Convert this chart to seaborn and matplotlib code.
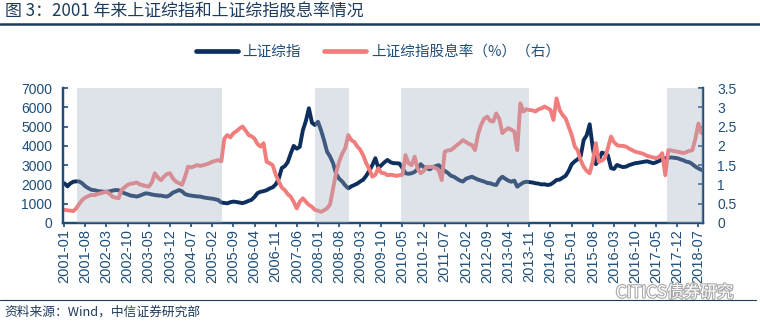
import numpy as np
import pandas as pd
import matplotlib
matplotlib.use("Agg")
import matplotlib.pyplot as plt
import matplotlib.dates as mdates
from matplotlib.lines import Line2D
import matplotlib.patheffects as pe
import seaborn as sns

# 上证综指（月度，2001-01 起）
sh_index = [
    2060, 1900, 2050, 2140, 2160, 2150, 2050, 1900, 1800, 1720, 1700, 1660,
    1640, 1620, 1620, 1640, 1680, 1710, 1700, 1600, 1540, 1480, 1420, 1400,
    1370, 1420, 1480, 1540, 1520, 1480, 1450, 1430, 1420, 1390, 1370, 1450,
    1580, 1640, 1710, 1640, 1500, 1450, 1420, 1400, 1380, 1370, 1330, 1300,
    1280, 1260, 1230, 1190, 1060, 1040, 1020, 1080, 1110, 1090, 1060, 1030,
    1080, 1150, 1200, 1350, 1550, 1620, 1650, 1700, 1790, 1850, 2000, 2300,
    2850, 2950, 3150, 3600, 4000, 3850, 3950, 4800, 5300, 5950, 5200, 5080,
    5250, 4800, 4300, 3700, 3450, 3100, 2550, 2300, 2150, 1950, 1800, 1900,
    1970, 2050, 2150, 2250, 2450, 2700, 3000, 3360, 2850, 3000, 3150, 3270,
    3150, 3100, 3100, 3080, 2850, 2580, 2550, 2580, 2650, 2800, 3050, 2900,
    2840, 2780, 2900, 2950, 3000, 2850, 2700, 2600, 2450, 2400, 2300, 2200,
    2150, 2300, 2350, 2400, 2320, 2250, 2200, 2150, 2080, 2060, 2000, 1970,
    2250, 2400, 2300, 2200, 2140, 2200, 1880, 2000, 2100, 2140, 2120, 2100,
    2060, 2040, 2000, 2010, 1970, 2000, 2100, 2230, 2250, 2350, 2450, 2700,
    3050, 3200, 3300, 3450, 4300, 4550, 5120, 3900, 3050, 3270, 3650, 3600,
    3500, 2850, 2800, 3010, 2950, 2900, 2920, 3000, 3050, 3100, 3120, 3150,
    3180, 3200, 3150, 3100, 3150, 3220, 3300, 3360, 3380, 3400, 3380, 3360,
    3300, 3250, 3180, 3150, 3050, 2920, 2830, 2750,
]

# 上证综指股息率（%）
div_yield = [
    0.34, 0.33, 0.32, 0.31, 0.38, 0.50, 0.60, 0.66, 0.70, 0.73, 0.72, 0.75,
    0.77, 0.79, 0.81, 0.76, 0.68, 0.66, 0.64, 0.86, 0.93, 0.99, 1.02, 1.03,
    1.05, 1.00, 0.98, 0.96, 0.94, 1.05, 1.29, 1.18, 1.11, 1.20, 1.27, 1.29,
    1.15, 1.07, 1.03, 0.99, 1.20, 1.46, 1.44, 1.47, 1.50, 1.48, 1.50, 1.52,
    1.55, 1.59, 1.61, 1.63, 1.60, 2.19, 2.28, 2.22, 2.33, 2.38, 2.45, 2.50,
    2.40, 2.28, 2.25, 2.19, 2.05, 1.98, 2.07, 1.59, 1.55, 1.50, 1.25, 1.08,
    0.92, 0.85, 0.75, 0.68, 0.55, 0.38, 0.55, 0.64, 0.55, 0.47, 0.42, 0.34,
    0.32, 0.29, 0.33, 0.38, 0.48, 0.90, 1.30, 1.59, 1.80, 1.94, 2.28, 2.15,
    2.10, 1.98, 1.90, 1.75, 1.55, 1.40, 1.20, 1.25, 1.42, 1.30, 1.29, 1.24,
    1.25, 1.24, 1.22, 1.24, 1.25, 1.76, 1.55, 1.50, 1.72, 1.40, 1.29, 1.35,
    1.46, 1.45, 1.46, 1.42, 1.37, 1.11, 1.85, 1.88, 1.89, 1.95, 2.02, 2.08,
    2.15, 2.10, 2.05, 2.02, 1.89, 2.30, 2.54, 2.70, 2.76, 2.65, 2.63, 2.84,
    2.70, 2.33, 2.40, 2.46, 2.42, 2.37, 1.89, 3.10, 2.89, 2.95, 2.93, 2.92,
    2.89, 2.95, 2.97, 3.02, 2.98, 2.93, 2.67, 3.23, 2.93, 2.80, 2.71, 2.50,
    2.28, 1.98, 1.89, 1.63, 1.46, 1.35, 1.29, 1.60, 2.07, 1.59, 1.62, 1.68,
    1.95, 2.24, 2.10, 2.02, 2.00, 2.00, 1.98, 1.93, 1.89, 1.85, 1.83, 1.81,
    1.78, 1.74, 1.72, 1.70, 1.68, 1.72, 1.81, 1.24, 1.89, 1.88, 1.86, 1.85,
    1.83, 1.81, 1.84, 1.87, 1.89, 2.19, 2.58, 2.33,
]

# 熊市区间（阴影）
shade_periods = [
    ("2001-05-06", "2005-05-11"),
    ("2007-12-01", "2008-11-08"),
    ("2010-04-17", "2013-10-25"),
    ("2017-08-20", "2018-08-25"),
]

tick_labels = pd.date_range("2001-01-01", "2018-07-01", freq="7MS")

dates = pd.date_range("2001-01-01", periods=len(sh_index), freq="MS")
df = pd.DataFrame({"date": dates, "index": sh_index, "yield": div_yield})

NAVY = "#0d2f5e"
PINK = "#f27d7d"
AXIS = "#1f4e79"
TEXT = "#1f4e79"
SHADE = "#a1adc1"

sns.set_theme(style="white")
plt.rcParams["font.family"] = ["Liberation Sans", "Noto Sans CJK SC", "DejaVu Sans"]
cjk = ["Noto Sans CJK SC", "DejaVu Sans"]

fig = plt.figure(figsize=(7.6, 3.26), dpi=100)
ax = fig.add_axes([63.3 / 760, 1 - 223 / 326, (703.3 - 63.3) / 760, (223 - 88) / 326])
ax2 = ax.twinx()

sns.lineplot(data=df, x="date", y="index", ax=ax, color=NAVY, linewidth=2.8, label="上证综指", legend=False)
sns.lineplot(data=df, x="date", y="yield", ax=ax2, color=PINK, linewidth=2.8, label="上证综指股息率（%）（右）", legend=False)

for start, end in shade_periods:
    ax2.axvspan(pd.Timestamp(start), pd.Timestamp(end), color=SHADE, alpha=0.34, lw=0, zorder=5)

ax.set_xlim(pd.Timestamp("2000-12-21"), pd.Timestamp("2018-08-19"))
ax.set_ylim(0, 7000)
ax2.set_ylim(0, 3.5)
ax.set_yticks(np.arange(0, 7001, 1000))
ax2.set_yticks(np.arange(0, 3.51, 0.5))
ax2.set_yticklabels(["0", "0.5", "1", "1.5", "2", "2.5", "3", "3.5"])
ax.set_xticks(tick_labels)
ax.xaxis.set_major_formatter(mdates.DateFormatter("%Y-%m"))

for a in (ax, ax2):
    a.set_xlabel("")
    a.set_ylabel("")
    a.grid(False)
    a.spines["top"].set_visible(False)
    for side in ("left", "right", "bottom"):
        a.spines[side].set_color(AXIS)
        a.spines[side].set_linewidth(1.6)

ax.tick_params(axis="y", direction="in", length=3.5, width=1.2, color=AXIS,
               labelsize=10, labelcolor=TEXT, pad=8, left=True)
ax2.tick_params(axis="y", direction="in", length=3.5, width=1.2, color=AXIS,
                labelsize=10, labelcolor=TEXT, pad=10, right=True)
ax.tick_params(axis="x", direction="out", length=3, width=1.2, color=AXIS,
               labelsize=10.5, labelcolor=TEXT, pad=1.5, bottom=True)
for lbl in ax.get_xticklabels():
    lbl.set_rotation(90)

handles = [Line2D([], [], color=NAVY, lw=3.4), Line2D([], [], color=PINK, lw=3.4)]
fig.legend(handles, ["上证综指", "上证综指股息率（%）（右）"], loc="center",
           bbox_to_anchor=(0.497, 1 - 52 / 326), ncol=2, frameon=False,
           prop={"family": cjk, "size": 10.5}, labelcolor=TEXT,
           handlelength=2.9, handletextpad=0.3, columnspacing=1.6)

fig.text(0.006, 1 - 12 / 326, "图 3：2001 年来上证综指和上证综指股息率情况",
         fontsize=12.2, color="#1d3b5c", family=cjk, va="center", ha="left")
fig.add_artist(Line2D([0, 1], [1 - 23.5 / 326, 1 - 23.5 / 326], color="#1d3b5c", lw=1.8))
fig.add_artist(Line2D([0, 0.995], [1 - 300 / 326, 1 - 300 / 326], color="#1d3b5c", lw=0.8))
fig.text(0.006, 1 - 312 / 326, "资料来源：Wind，中信证券研究部",
         fontsize=9.2, color="#1d3b5c", family=cjk, va="center", ha="left")
fig.text(0.965, 1 - 293 / 326, "CITICS债券研究", fontsize=12, color="white",
         family=cjk, va="center", ha="right",
         path_effects=[pe.withStroke(linewidth=1.6, foreground="#a8a8a8")])

fig.savefig("out.png", dpi=100)
